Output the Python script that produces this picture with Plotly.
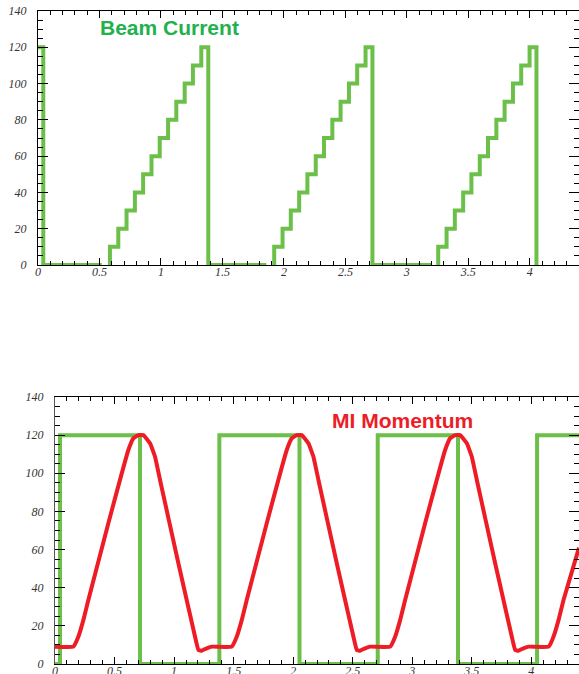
import plotly.graph_objects as go

# ---------------- data ----------------
# Top panel: beam current (staircase, drawn with 'vh' steps)
beam_x = [0, 0.043, 0.518, None,
          0.585, 0.653, 0.72, 0.788, 0.855, 0.923, 0.99, 1.058, 1.125, 1.193, 1.26, 1.328, 1.385, 1.857, None,
          1.921, 1.989, 2.056, 2.124, 2.191, 2.259, 2.326, 2.394, 2.461, 2.529, 2.596, 2.664, 2.72, 3.205, None,
          3.255, 3.323, 3.39, 3.458, 3.525, 3.593, 3.66, 3.728, 3.795, 3.863, 3.93, 3.998, 4.054, 4.054]
beam_y = [120, 120, 0, None,
          0, 10, 20, 30, 40, 50, 60, 70, 80, 90, 100, 110, 120, 0, None,
          0, 10, 20, 30, 40, 50, 60, 70, 80, 90, 100, 110, 120, 0, None,
          0, 10, 20, 30, 40, 50, 60, 70, 80, 90, 100, 110, 120, 0]

# Bottom panel: beam gate (square wave)
gate_x = [0, 0.042, 0.042, 0.714, 0.714, 1.38, 1.38, 2.053, 2.053, 2.71, 2.71, 3.384, 3.384, 4.048, 4.048, 4.4]
gate_y = [0, 0, 120, 120, 0, 0, 120, 120, 0, 0, 120, 120, 0, 0, 120, 120]

# Bottom panel: MI momentum
mom_x = [0, 0.154, 0.196, 0.238, 0.28, 0.448, 0.616, 0.658, 0.7, 0.742, 0.798, 0.84, 0.882, 1.036, 1.176, 1.204, 1.232, 1.274, 1.316,
         1.484, 1.526, 1.568, 1.61, 1.778, 1.946, 1.988, 2.03, 2.072, 2.128, 2.17, 2.212, 2.366, 2.506, 2.534, 2.562, 2.604, 2.646,
         2.815, 2.856, 2.898, 2.94, 3.108, 3.276, 3.318, 3.36, 3.402, 3.458, 3.5, 3.542, 3.696, 3.836, 3.864, 3.892, 3.934, 3.976,
         4.145, 4.186, 4.228, 4.27, 4.4]
mom_y = [9.1, 9.1, 14.3, 23, 33.6, 73.8, 112.2, 118.3, 120, 120, 115.7, 108.7, 96.5, 52.8, 14.3, 7.3, 7.0, 8.2, 9.1,
         9.1, 14.3, 23, 33.6, 73.8, 112.2, 118.3, 120, 120, 115.7, 108.7, 96.5, 52.8, 14.3, 7.3, 7.0, 8.2, 9.1,
         9.1, 14.3, 23, 33.6, 73.8, 112.2, 118.3, 120, 120, 115.7, 108.7, 96.5, 52.8, 14.3, 7.3, 7.0, 8.2, 9.1,
         9.1, 14.3, 23, 33.6, 61]

x_range = [0, 4.4]
y_range = [0, 140]
x_ticks = [0, 0.5, 1, 1.5, 2, 2.5, 3, 3.5, 4]
x_labels = ["0", "0.5", "1", "1.5", "2", "2.5", "3", "3.5", "4"]
y_ticks = [0, 20, 40, 60, 80, 100, 120, 140]
y_labels = ["0", "20", "40", "60", "80", "100", "120", "140"]

GREEN = "#6cc04a"
GREEN_TXT = "#22b14c"
RED = "#ee1c25"

W, H = 579, 674

fig = go.Figure()
fig.add_trace(go.Scatter(x=beam_x, y=beam_y, mode="lines", line=dict(color=GREEN, width=4, shape="vh"),
                         connectgaps=False, xaxis="x", yaxis="y", showlegend=False, hoverinfo="skip"))
fig.add_trace(go.Scatter(x=gate_x, y=gate_y, mode="lines", line=dict(color=GREEN, width=4),
                         xaxis="x2", yaxis="y2", showlegend=False, hoverinfo="skip"))
fig.add_trace(go.Scatter(x=mom_x, y=mom_y, mode="lines", line=dict(color=RED, width=4, shape="spline", smoothing=0.3),
                         xaxis="x2", yaxis="y2", showlegend=False, hoverinfo="skip"))

tickfont = dict(family="Liberation Serif", size=12, color="#333333", style="italic")

def xaxis(domain, anchor):
    return dict(domain=domain, anchor=anchor, range=x_range, showgrid=False, zeroline=False,
                showline=True, linecolor="black", linewidth=1, mirror="ticks",
                ticks="inside", ticklen=7, tickcolor="black", tickwidth=1,
                tickvals=x_ticks, ticktext=x_labels, tickfont=tickfont, ticklabelstandoff=-4,
                minor=dict(dtick=0.1, tick0=0, ticks="inside", ticklen=4, tickcolor="black", showgrid=False),
                automargin=False, fixedrange=True)

def yaxis(domain, anchor, linecolor):
    return dict(domain=domain, anchor=anchor, range=y_range, showgrid=False, zeroline=False,
                showline=True, linecolor=linecolor, linewidth=1, mirror="ticks",
                ticks="inside", ticklen=10, tickcolor="black", tickwidth=1,
                tickvals=y_ticks, ticktext=y_labels, tickfont=tickfont, ticklabelstandoff=8,
                minor=dict(dtick=5, tick0=0, ticks="inside", ticklen=5, tickcolor="black", showgrid=False),
                automargin=False, fixedrange=True)

fig.update_layout(
    width=W, height=H, template="none",
    margin=dict(l=0, r=0, t=0, b=0),
    paper_bgcolor="white", plot_bgcolor="white",
    xaxis=xaxis([38 / W, 1], "y"),
    yaxis=yaxis([1 - 265 / H, 1 - 11 / H], "x", "black"),
    xaxis2=xaxis([55 / W, 1], "y2"),
    yaxis2=yaxis([1 - 664 / H, 1 - 397 / H], "x2", "#555555"),
    annotations=[
        dict(text="<b>Beam Current</b>", xref="paper", yref="paper", x=169 / W, y=1 - 28 / H,
             xanchor="center", yanchor="middle", showarrow=False,
             font=dict(family="Liberation Sans", size=21, color=GREEN_TXT)),
        dict(text="<b>MI Momentum</b>", xref="paper", yref="paper", x=402 / W, y=1 - 420 / H,
             xanchor="center", yanchor="middle", showarrow=False,
             font=dict(family="Liberation Sans", size=21, color=RED)),
    ],
)

fig.write_html("out.html")
